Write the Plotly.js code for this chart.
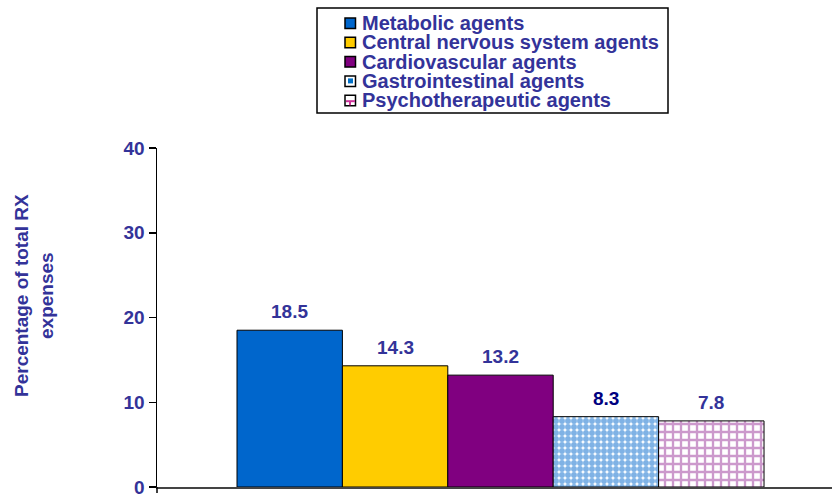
<!DOCTYPE html>
<html><head><meta charset="utf-8">
<script src="https://cdn.plot.ly/plotly-3.0.1.min.js"></script>
<style>html,body{margin:0;padding:0;background:#fff}#chart{width:833px;height:497px}</style>
</head><body><div id="chart"></div>
<script>
const seriesNames = ["Metabolic agents","Central nervous system agents","Cardiovascular agents","Gastrointestinal agents","Psychotherapeutic agents"];
const seriesValues = [18.5, 14.3, 13.2, 8.3, 7.8];
const barPositions = [0, 1, 2, 3, 4];
const yTickVals = [0, 10, 20, 30, 40];
const yTitle = "Percentage of total RX<br>expenses";

const fills = ["#0066CC","#FFCC00","#800080","#FFFFFF","#FFFFFF"];
const patterns = [
  {shape:""},{shape:""},{shape:""},
  {shape:".", fgcolor:"#0066CC", bgcolor:"#FFFFFF", size:6, solidity:0.75, fillmode:"overlay"},
  {shape:"+", fgcolor:"#993399", bgcolor:"#FFFFFF", size:8, solidity:0.5, fillmode:"overlay"}
];
const labelColors = ["#333399","#333399","#333399","#000080","#333399"];
const font = "Arial, 'Liberation Sans', sans-serif";
const navy = "#333399";

// plot area in pixels (for placing legend / title in paper coordinates)
const L = 157, R = 832, T = 148, B = 487;
const px = x => (x - L) / (R - L);
const py = y => (B - y) / (B - T);

const traces = seriesNames.map((n,i)=>({
  type:"bar", name:n, x:[barPositions[i]], y:[seriesValues[i]], width:1,
  marker:{color:fills[i], line:{color:"#000000", width:1}, pattern:patterns[i]},
  hoverinfo:"none", showlegend:false
}));

const annotations = seriesNames.map((n,i)=>({
  x:barPositions[i], y:seriesValues[i], xref:"x", yref:"y",
  text:seriesValues[i].toFixed(1), showarrow:false, yanchor:"bottom", yshift:6,
  font:{family:font, size:19, color:labelColors[i], weight:"bold"}
}));
// legend texts
const legTop = 23, legStep = 19.3;
seriesNames.forEach((n,i)=>{
  annotations.push({x:px(360), y:py(legTop + legStep*i), xref:"paper", yref:"paper",
    xanchor:"left", yanchor:"middle", text:n, showarrow:false,
    font:{family:font, size:20, color:navy, weight:"bold"}});
});
// y title
annotations.push({x:px(34), y:py(296), xref:"paper", yref:"paper", xanchor:"center", yanchor:"middle",
  text:yTitle, textangle:-90, showarrow:false,
  font:{family:font, size:19, color:navy, weight:"bold"}});

const shapes = [{type:"rect", xref:"paper", yref:"paper", x0:px(317), x1:px(668), y0:py(8), y1:py(113),
  line:{color:"#000", width:1.5}, fillcolor:"rgba(0,0,0,0)"},
  // y axis line continues a little below the x axis, as in the reference
  {type:"line", xref:"paper", yref:"paper", x0:0, x1:0, y0:0, y1:py(493), line:{color:"#000", width:1.5}}];
const swatchFill = ["#0066CC","#FFCC00","#800080","#FFFFFF","#FFFFFF"];
seriesNames.forEach((n,i)=>{
  const cy = legTop + legStep*i;
  shapes.push({type:"rect", xref:"paper", yref:"paper", x0:px(345), x1:px(355.5), y0:py(cy+5.5), y1:py(cy-5),
    line:{color:"#000", width:1.5}, fillcolor:swatchFill[i]});
});
// inner pattern hints for patterned swatches
shapes.push({type:"rect", xref:"paper", yref:"paper", x0:px(348), x1:px(353), y0:py(legTop+legStep*3+2.5), y1:py(legTop+legStep*3-2.5),
  line:{width:0}, fillcolor:"#0070C8"});
shapes.push({type:"line", xref:"paper", yref:"paper", x0:px(346), x1:px(355), y0:py(legTop+legStep*4+1), y1:py(legTop+legStep*4+1),
  line:{color:"#CC3399", width:2}});
shapes.push({type:"line", xref:"paper", yref:"paper", x0:px(350), x1:px(350), y0:py(legTop+legStep*4+1), y1:py(legTop+legStep*4+5),
  line:{color:"#CC3399", width:2}});

const layout = {
  width:833, height:497,
  margin:{l:L, r:833-R, t:T, b:497-B},
  paper_bgcolor:"#fff", plot_bgcolor:"#fff",
  barmode:"overlay", showlegend:false,
  xaxis:{range:[-1.259, 5.145], showticklabels:false, ticks:"", showline:true, linecolor:"#444", linewidth:1.5,
    showgrid:false, zeroline:false},
  yaxis:{range:[0,40], tickvals:yTickVals, ticks:"outside", ticklen:7, tickcolor:"#000", tickwidth:1.5,
    showline:true, linecolor:"#000", linewidth:1.5, showgrid:false, zeroline:false,
    ticklabeloverflow:"allow",
    tickfont:{family:font, size:19, color:navy, weight:"bold"}},
  annotations, shapes
};
Plotly.newPlot("chart", traces, layout, {displayModeBar:false, staticPlot:true});
</script></body></html>
